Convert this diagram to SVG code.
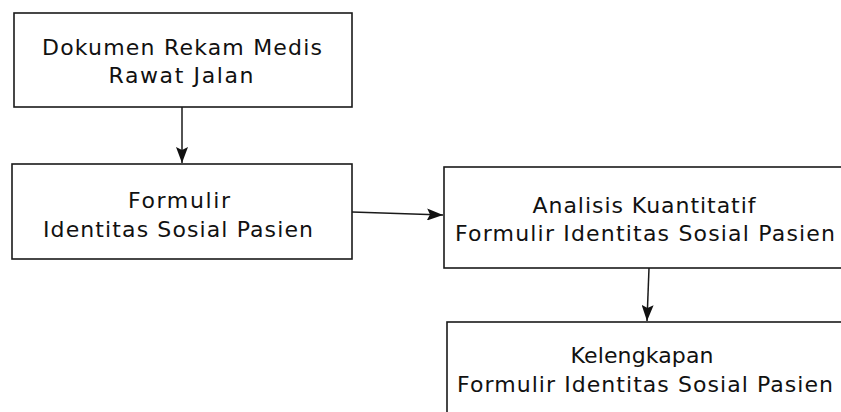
<svg xmlns="http://www.w3.org/2000/svg" width="841" height="412" viewBox="0 0 841 412">
<style>
.box{fill:#fff;stroke:#1a1a1a;stroke-width:1.6}
.lbl{font-family:"DejaVu Sans","Liberation Sans",sans-serif;font-size:22px;fill:#111;text-anchor:middle}
.conn{stroke:#1a1a1a;stroke-width:1.5;fill:none;marker-end:url(#ah)}
</style>
<defs>
<marker id="ah" markerUnits="userSpaceOnUse" viewBox="0 0 16 12" markerWidth="16" markerHeight="12" refX="16" refY="6" orient="auto">
<path d="M0,0 L16,6 L0,12 L3,6 z" fill="#111"/>
</marker>
</defs>
<rect width="841" height="412" fill="#fff"/>
<g id="node1">
<rect class="box" x="14" y="13" width="338" height="94"/>
<text class="lbl" x="182" y="55" textLength="280" lengthAdjust="spacing">Dokumen Rekam Medis</text>
<text class="lbl" x="181" y="83" textLength="145" lengthAdjust="spacing">Rawat Jalan</text>
</g>
<g id="node2">
<rect class="box" x="12" y="164" width="340" height="95"/>
<text class="lbl" x="179" y="208" textLength="102" lengthAdjust="spacing">Formulir</text>
<text class="lbl" x="178" y="237" textLength="270" lengthAdjust="spacing">Identitas Sosial Pasien</text>
</g>
<g id="node3">
<rect class="box" x="444" y="167" width="406" height="101"/>
<text class="lbl" x="644" y="213" textLength="223" lengthAdjust="spacing">Analisis Kuantitatif</text>
<text class="lbl" x="645" y="241" textLength="380" lengthAdjust="spacing">Formulir Identitas Sosial Pasien</text>
</g>
<g id="node4">
<rect class="box" x="447" y="322" width="403" height="100"/>
<text class="lbl" x="642" y="363" textLength="143" lengthAdjust="spacing">Kelengkapan</text>
<text class="lbl" x="645" y="392" textLength="376" lengthAdjust="spacing">Formulir Identitas Sosial Pasien</text>
</g>
<g id="connectors">
<line class="conn" x1="182" y1="107" x2="182" y2="163"/>
<line class="conn" x1="352" y1="212" x2="443" y2="215"/>
<line class="conn" x1="649" y1="268" x2="647" y2="321"/>
</g>
</svg>
